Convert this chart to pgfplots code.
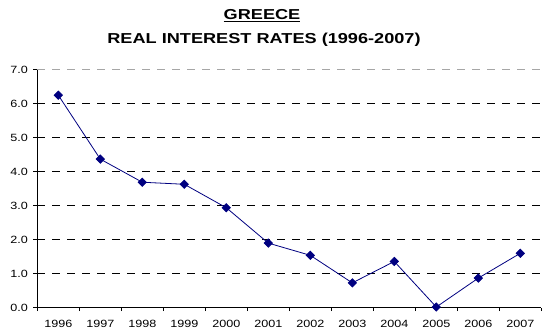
\documentclass[border=0pt]{standalone}
\usepackage{fontspec}
\setmainfont{Liberation Sans}
\usepackage{graphicx}
\usepackage{pgfplots}
\pgfplotsset{compat=1.18}
\definecolor{navy}{RGB}{0,0,128}
\newcommand{\wide}[1]{\scalebox{1.2}[1]{#1}}
\begin{document}
\begin{tikzpicture}[x=1pt,y=1pt]
\begin{axis}[
  at={(37.3pt,28.3pt)}, anchor=south west,
  scale only axis, width=504pt, height=238pt,
  xmin=-0.5, xmax=11.5, ymin=0, ymax=7,
  axis lines*=left,
  axis line style={black, line width=0.8pt},
  xtick={0,...,11},
  xticklabels={\wide{1996},\wide{1997},\wide{1998},\wide{1999},\wide{2000},\wide{2001},\wide{2002},\wide{2003},\wide{2004},\wide{2005},\wide{2006},\wide{2007}},
  major x tick style={draw=none},
  minor xtick={-0.5,0.5,...,11.5},
  minor tick length=3.5pt,
  major tick length=4pt,
  tick align=outside,
  tick style={black, line width=0.8pt},
  ytick={0,1,...,6},
  extra y ticks={7},
  extra y tick style={grid style={gray!70, line width=0.8pt, dash pattern=on 8pt off 7pt}},
  yticklabel={\wide{\pgfmathprintnumber[fixed,fixed zerofill,precision=1]{\tick}}},
  /pgf/number format/assume math mode=true,
  ticklabel style={font=\fontsize{10.5}{12}\selectfont},
  yticklabel style={xshift=-2pt},
  xticklabel style={yshift=-5pt},
  ymajorgrids,
  grid style={black, line width=0.8pt, dash pattern=on 8pt off 7pt},
  clip=false,
]
\addplot[navy, line width=0.8pt, mark=square*, mark size=2.9pt, mark options={rotate=45, fill=navy, draw=navy}]
coordinates {(0,6.25) (1,4.37) (2,3.69) (3,3.63) (4,2.94) (5,1.90) (6,1.54) (7,0.73) (8,1.36) (9,0.02) (10,0.87) (11,1.60)};
\end{axis}
\node[anchor=base, inner sep=0pt, font=\bfseries\fontsize{14.4}{17}\selectfont] at (262,316.7) {\scalebox{1.26}[1]{\underline{GREECE}}};
\node[anchor=base, inner sep=0pt, font=\bfseries\fontsize{14.4}{17}\selectfont] at (264,292.7) {\scalebox{1.26}[1]{REAL INTEREST RATES (1996-2007)}};
\pgfresetboundingbox
\useasboundingbox (0,0) rectangle (542,336);
\end{tikzpicture}
\end{document}
